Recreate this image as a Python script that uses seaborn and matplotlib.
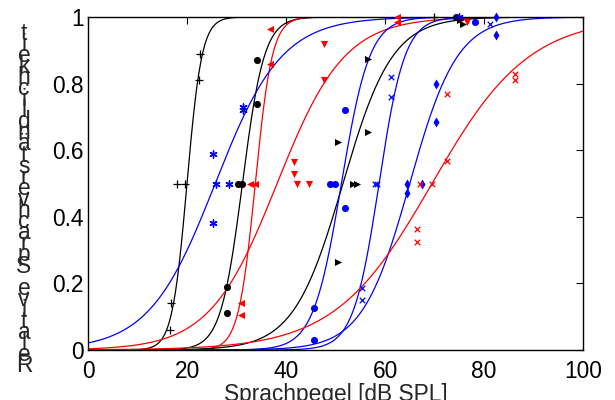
import numpy as np
import pandas as pd
import seaborn as sns
import matplotlib
matplotlib.use('Agg')
import matplotlib.pyplot as plt

''' DATA READ OFF THE PICTURE
'''
plus_k_x = [16.6, 16.8, 18.0, 19.6, 22.4, 22.6, 69.8]
plus_k_y = [0.06, 0.14, 0.50, 0.50, 0.81, 0.89, 1.00]
dot_k_x = [28.1, 28.1, 30.3, 31.1, 34.1, 34.1, 74.3]
dot_k_y = [0.11, 0.19, 0.50, 0.50, 0.74, 0.87, 1.00]
tril_r_x = [30.9, 30.9, 32.7, 33.7, 36.8, 36.8, 62.4, 62.4]
tril_r_y = [0.105, 0.14, 0.50, 0.50, 0.86, 0.965, 1.00, 0.985]
star_b_x = [25.3, 25.3, 25.9, 28.5, 31.3, 31.3, 75.0]
star_b_y = [0.38, 0.59, 0.50, 0.50, 0.72, 0.73, 1.00]
trid_r_x = [41.6, 41.6, 42.2, 44.6, 47.7, 47.7, 76.5]
trid_r_y = [0.528, 0.564, 0.50, 0.50, 0.81, 0.92, 0.985]
trir_k_x = [50.5, 50.5, 53.5, 54.3, 56.6, 56.6, 75.2, 75.8]
trir_k_y = [0.264, 0.625, 0.50, 0.50, 0.654, 0.874, 0.99, 0.98]
dot_b_x = [45.7, 45.7, 48.9, 49.9, 51.9, 51.9, 78.2]
dot_b_y = [0.03, 0.126, 0.50, 0.50, 0.426, 0.72, 0.985]
cross_b_x = [55.3, 55.3, 58.0, 58.3, 61.2, 61.2, 81.2]
cross_b_y = [0.15, 0.186, 0.50, 0.50, 0.76, 0.82, 0.98]
diam_b_x = [64.4, 64.4, 67.5, 70.3, 70.3, 82.4, 82.4]
diam_b_y = [0.47, 0.50, 0.50, 0.686, 0.80, 0.946, 1.00]
cross_r_x = [66.5, 66.5, 67.1, 69.5, 72.5, 72.5, 86.3, 86.3]
cross_r_y = [0.324, 0.363, 0.50, 0.50, 0.568, 0.768, 0.81, 0.83]

# fitted psychometric functions: 50% point [dB SPL] and spread
curve_mid = [20.0, 31.2, 33.8, 25.7, 38.2, 51.5, 51.2, 58.8, 65.0, 69.5]
curve_spread = [1.5, 2.2, 1.7, 6.7, 6.8, 5.0, 2.85, 2.6, 4.8, 9.8]

x_ticks = [0, 20, 40, 60, 80, 100]
y_ticks = [0, 0.2, 0.4, 0.6, 0.8, 1]
y_ticklabels = ['0', '0.2', '0.4', '0.6', '0.8', '1']
x_label = 'Sprachpegel [dB SPL]'
y_label = 'Relative Sprachverständlichkeit'

''' STYLE
'''
sns.set_style('white')
plt.rcParams['font.family'] = ['Liberation Sans', 'DejaVu Sans']
fs = 16.4

asterisk = (6, 2, 0)
sets = [
    (plus_k_x, plus_k_y, 'k', '+'),
    (dot_k_x, dot_k_y, 'k', 'o'),
    (tril_r_x, tril_r_y, 'r', '<'),
    (star_b_x, star_b_y, 'b', asterisk),
    (trid_r_x, trid_r_y, 'r', 'v'),
    (trir_k_x, trir_k_y, 'k', '>'),
    (dot_b_x, dot_b_y, 'b', 'o'),
    (cross_b_x, cross_b_y, 'b', 'x'),
    (diam_b_x, diam_b_y, 'b', 'd'),
    (cross_r_x, cross_r_y, 'r', 'x'),
]
colors = {'k': '#000000', 'r': '#ff0000', 'b': '#0000ff'}

fig = plt.figure(figsize=(6.15, 4.0), dpi=100)
ax = fig.add_axes([88/615, 50/400, 495/615, 333/400])

''' CURVES AND POINTS
'''
xs = np.linspace(0, 100, 501)
for (px, py, c, m), mid, sp in zip(sets, curve_mid, curve_spread):
    df_c = pd.DataFrame({'x': xs, 'y': 1.0/(1.0 + np.exp(-(xs - mid)/sp))})
    sns.lineplot(data=df_c, x='x', y='y', color=colors[c], lw=0.9, ax=ax)
for (px, py, c, m) in sets:
    df_p = pd.DataFrame({'x': px, 'y': py})
    if m == '+':
        sns.scatterplot(data=df_p, x='x', y='y', color=colors[c], marker=m, s=32,
                        linewidth=0.9, ax=ax, clip_on=False, zorder=3)
    elif m == 'x':
        sns.scatterplot(data=df_p, x='x', y='y', color=colors[c], marker=m, s=16,
                        linewidth=0.9, ax=ax, clip_on=False, zorder=3)
    elif m == asterisk:
        sns.scatterplot(data=df_p, x='x', y='y', color=colors[c], marker=m, s=26,
                        linewidth=1.0, edgecolor=colors[c], ax=ax, clip_on=False, zorder=3)
    else:
        sns.scatterplot(data=df_p, x='x', y='y', color=colors[c], marker=m, s=26,
                        linewidth=0, ax=ax, clip_on=False, zorder=3)

''' AXES
'''
ax.set_xlim(0, 100)
ax.set_ylim(0, 1)
ax.set_xticks(x_ticks)
ax.set_xticklabels([str(t) for t in x_ticks], fontsize=fs)
ax.set_yticks(y_ticks)
ax.set_yticklabels(y_ticklabels, fontsize=fs)
ax.tick_params(direction='in', length=5, width=0.8, top=True, right=True,
               pad=3, colors='black')
ax.tick_params(axis='x', pad=7)
for sp in ax.spines.values():
    sp.set_visible(True)
    sp.set_color('black')
    sp.set_linewidth(1.0)
ax.set_xlabel(x_label, fontsize=fs, labelpad=0)
ax.set_ylabel('')

# y label drawn as upright stacked letters, bottom to top
for i, ch in enumerate(y_label):
    fig.text(24/615, (400 - (366 - i*11.1))/400, ch, fontsize=fs,
             ha='center', va='center')

plt.savefig('out.png', dpi=100)
